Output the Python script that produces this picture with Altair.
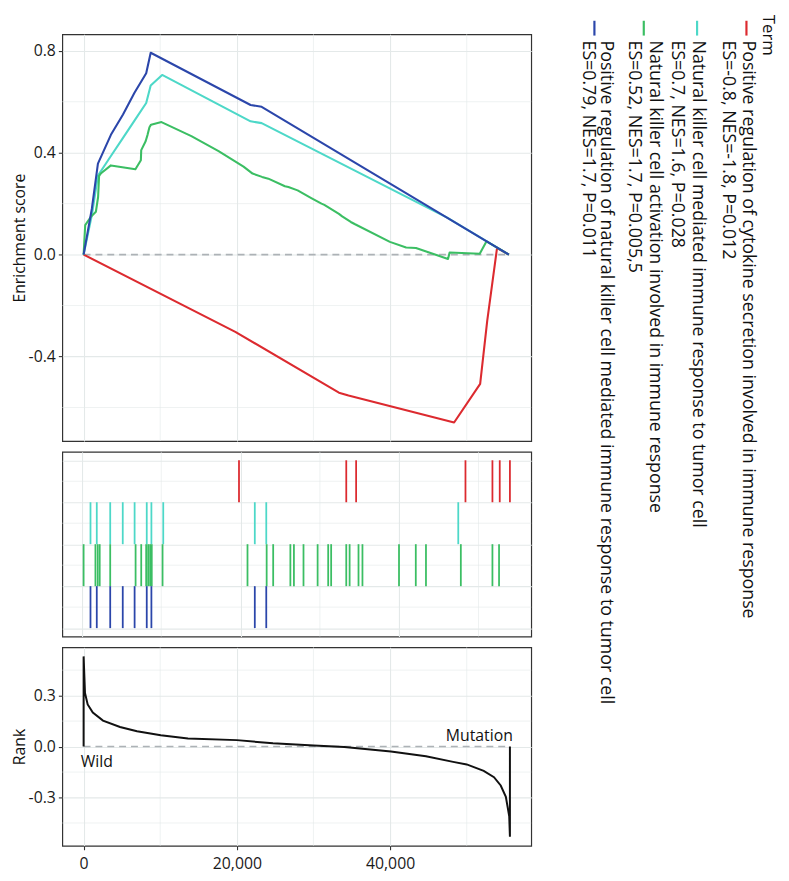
import altair as alt
import pandas as pd

FONT = "Open Sans"

# ---------------- data ----------------
terms = [
    "Positive regulation of cytokine secretion involved in immune response",
    "Natural killer cell mediated immune response to tumor cell",
    "Natural killer cell activation involved in immune response",
    "Positive regulation of natural killer cell mediated immune response to tumor cell",
]
stat_lines = [
    "ES=-0.8, NES=-1.8, P=0.012",
    "ES=0.7, NES=1.6, P=0.028",
    "ES=0.52, NES=1.7, P=0.005,5",
    "ES=0.79, NES=1.7, P=0.011",
]
term_colors = ["#DC2A2F", "#4DD8C8", "#3BBE63", "#2B46AA"]

# running enrichment score curves
red_x = [0, 19800, 33325, 34570, 48356, 51756, 52677, 53960, 55503]
red_y = [0, -0.303, -0.542, -0.553, -0.659, -0.507, -0.26, 0.026, 0]

cyan_x = [0, 1075, 1868, 3562, 5143, 6638, 8169, 8755, 10249, 21793, 23238, 47447, 55503]
cyan_y = [0, 0.155, 0.31, 0.387, 0.458, 0.526, 0.595, 0.664, 0.705, 0.523, 0.516, 0.145, 0]

green_x = [0, 208, 950, 1600, 1890, 2020, 2237, 3562, 6762, 7472, 7520, 8095, 8344, 8593, 8800,
           10162, 14065, 17615, 20872, 22052, 23288, 24110, 26277, 26725, 27933, 29714, 31046,
           31420, 33325, 33748, 34869, 35367, 39975, 42092, 43375, 47560, 47771, 51700, 52590, 55503]
green_y = [0, 0.116, 0.148, 0.168, 0.226, 0.309, 0.318, 0.35, 0.335, 0.37, 0.41, 0.445, 0.47, 0.5, 0.51,
           0.52, 0.465, 0.406, 0.345, 0.318, 0.305, 0.298, 0.268, 0.265, 0.252, 0.222, 0.2,
           0.195, 0.16, 0.15, 0.128, 0.12, 0.05, 0.028, 0.026, -0.017, 0.008, 0.003, 0.052, 0]

blue_x = [0, 1075, 1868, 3562, 5143, 6638, 8169, 8755, 21793, 23238, 55503]
blue_y = [0, 0.18, 0.357, 0.47, 0.55, 0.635, 0.712, 0.792, 0.587, 0.58, 0]

# gene positions of each set in the ranked list
red_hits = [19800, 33325, 34570, 48356, 51756, 52677, 53960]
cyan_hits = [1075, 1868, 3562, 5143, 6638, 8169, 8755, 10249, 21793, 23238, 47447]
green_hits = [208, 1698, 1988, 2237, 3562, 6762, 7472, 8095, 8344, 8593, 8800, 10162, 20872,
              23288, 24110, 26277, 26725, 27933, 29714, 31046, 31420, 33325, 33748, 34869,
              35367, 39975, 42092, 43375, 47771, 51756, 52590]
blue_hits = [1075, 1868, 3562, 5143, 6638, 8169, 8755, 21793, 23238]

# ranked list metric
rank_x = [0, 0, 180, 530, 1200, 2530, 4750, 6970, 10070, 13620, 20000, 24710, 30040, 34030,
          40110, 44680, 48230, 50000, 52220, 53560, 54440, 55110, 55550, 55640, 55640]
rank_y = [0, 0.531, 0.315, 0.248, 0.2, 0.153, 0.115, 0.09, 0.067, 0.048, 0.038, 0.019, 0.006,
          -0.002, -0.029, -0.057, -0.09, -0.105, -0.143, -0.18, -0.229, -0.296, -0.411, -0.531, 0]

group_labels = ["Wild", "Mutation"]
group_label_y = [-0.09, 0.06]

x_major = [0, 20000, 40000]
x_minor = [10000, 30000, 50000]
es_major = [-0.4, 0.0, 0.4, 0.8]
es_minor = [-0.6, -0.2, 0.2, 0.6]
lane_major = [0, 1, 2, 3, 4]
lane_minor = [0.5, 1.5, 2.5, 3.5]
rank_major = [-0.3, 0.0, 0.3]
rank_minor = [-0.45, -0.15, 0.15, 0.45]

# ---------------- frames ----------------
curves = [(red_x, red_y), (cyan_x, cyan_y), (green_x, green_y), (blue_x, blue_y)]
es_df = pd.concat(
    [pd.DataFrame({"term": t, "x": cx, "y": cy, "i": range(len(cx))}) for t, (cx, cy) in zip(terms, curves)],
    ignore_index=True,
)
hits = [red_hits, cyan_hits, green_hits, blue_hits]
n_terms = len(terms)
hits_df = pd.concat(
    [pd.DataFrame({"term": t, "x": h, "lane": n_terms - 1 - k}) for k, (t, h) in enumerate(zip(terms, hits))],
    ignore_index=True,
)
rank_df = pd.DataFrame({"x": rank_x, "y": rank_y, "i": range(len(rank_x))})
lab_df = pd.DataFrame({
    "label": group_labels,
    "x": [rank_x[0], rank_x[-1]],
    "y": group_label_y,
})


def expand(lo, hi, f=0.05):
    r = hi - lo
    return [lo - f * r, hi + f * r]


all_hits = [v for h in hits for v in h]
x_dom = expand(min(rank_x), max(rank_x))
mid_dom = expand(min(all_hits), max(all_hits))
es_dom = expand(min(es_df["y"]), max(es_df["y"]))
lane_dom = expand(0, n_terms)
rank_dom = expand(min(rank_y), max(rank_y))

# ---------------- style ----------------
W = 475
H_TOP, H_MID, H_BOT = 412, 187, 201
GRID = "#E4E9E9"
GRID_W = 1.1
MINOR_W = 0.6
ZERO = "#ADB2B6"
NEG = "(datum.value < 0 ? '-' : '') + format(abs(datum.value), '.1f')"
TITLE_X = -35
LAB_FS = 16
TITLE_FS = 16
ANN_FS = 16
color_scale = alt.Scale(domain=terms, range=term_colors)


def sc(dom):
    return alt.Scale(domain=dom, nice=False, zero=False)


# ---------------- top panel ----------------
xs_top = sc(x_dom)
ys_top = sc(es_dom)
ax_x_top = alt.Axis(values=x_major, labels=False, ticks=False, domain=False, title=None,
                    grid=True, gridColor=GRID, gridWidth=GRID_W)
ax_y_top = alt.Axis(values=es_major, labelExpr=NEG, title="Enrichment score", titleX=TITLE_X,
                    grid=True, gridColor=GRID, gridWidth=GRID_W, domain=False)
X_top = alt.X("x:Q", scale=xs_top, axis=ax_x_top)
Y_top = alt.Y("y:Q", scale=ys_top, axis=ax_y_top)

top_minor_x = alt.Chart(pd.DataFrame({"x": x_minor})).mark_rule(color=GRID, strokeWidth=MINOR_W).encode(x=X_top)
top_minor_y = alt.Chart(pd.DataFrame({"y": es_minor})).mark_rule(color=GRID, strokeWidth=MINOR_W).encode(y=Y_top)
top_zero = alt.Chart(es_df).mark_rule(color=ZERO, strokeWidth=1.6, strokeDash=[7, 5]).encode(
    x=alt.X("min(x):Q", scale=xs_top, axis=ax_x_top),
    x2="max(x)",
    y=alt.datum(0),
)
top_lines = alt.Chart(es_df).mark_line(strokeWidth=2.1, strokeJoin="round").encode(
    x=X_top, y=Y_top,
    color=alt.Color("term:N", scale=color_scale, legend=None),
    order="i:Q",
)
top = alt.layer(top_minor_x, top_minor_y, top_zero, top_lines).properties(width=W, height=H_TOP)

# ---------------- middle panel ----------------
xs_mid = sc(mid_dom)
ys_mid = sc(lane_dom)
ax_x_mid = alt.Axis(values=x_major, labels=False, ticks=False, domain=False, title=None,
                    grid=True, gridColor=GRID, gridWidth=GRID_W)
ax_y_mid = alt.Axis(values=lane_major, labels=False, ticks=False, domain=False, title=None,
                    grid=True, gridColor=GRID, gridWidth=GRID_W)
X_mid = alt.X("x:Q", scale=xs_mid, axis=ax_x_mid)
Y_mid = alt.Y("lane:Q", scale=ys_mid, axis=ax_y_mid)
mid_minor_x = alt.Chart(pd.DataFrame({"x": x_minor})).mark_rule(color=GRID, strokeWidth=MINOR_W).encode(x=X_mid)
mid_minor_y = alt.Chart(pd.DataFrame({"lane": lane_minor})).mark_rule(color=GRID, strokeWidth=MINOR_W).encode(y=Y_mid)
mid_ticks = alt.Chart(hits_df).transform_calculate(lane_top="datum.lane + 1").mark_rule(strokeWidth=1.8).encode(
    x=X_mid, y=Y_mid, y2="lane_top:Q",
    color=alt.Color("term:N", scale=color_scale, legend=None),
)
mid = alt.layer(mid_minor_x, mid_minor_y, mid_ticks).properties(width=W, height=H_MID)

# ---------------- bottom panel ----------------
xs_bot = sc(x_dom)
ys_bot = sc(rank_dom)
ax_x_bot = alt.Axis(values=x_major, format=",d", title=None, grid=True, gridColor=GRID, gridWidth=GRID_W,
                    domain=False, labelPadding=6)
ax_y_bot = alt.Axis(values=rank_major, labelExpr=NEG, title="Rank", titleX=TITLE_X,
                    grid=True, gridColor=GRID, gridWidth=GRID_W, domain=False)
X_bot = alt.X("x:Q", scale=xs_bot, axis=ax_x_bot)
Y_bot = alt.Y("y:Q", scale=ys_bot, axis=ax_y_bot)
bot_minor_x = alt.Chart(pd.DataFrame({"x": x_minor})).mark_rule(color=GRID, strokeWidth=MINOR_W).encode(x=X_bot)
bot_minor_y = alt.Chart(pd.DataFrame({"y": rank_minor})).mark_rule(color=GRID, strokeWidth=MINOR_W).encode(y=Y_bot)
bot_zero = alt.Chart(rank_df).mark_rule(color=ZERO, strokeWidth=1.6, strokeDash=[7, 5]).encode(
    x=alt.X("min(x):Q", scale=xs_bot, axis=ax_x_bot),
    x2="max(x)",
    y=alt.datum(0),
)
bot_line = alt.Chart(rank_df).mark_line(color="#111111", strokeWidth=2.0).encode(x=X_bot, y=Y_bot, order="i:Q")
wild = alt.Chart(lab_df.iloc[[0]]).mark_text(align="left", baseline="middle", dx=-3, fontSize=ANN_FS,
                                             font=FONT, color="#111111").encode(x=X_bot, y=Y_bot, text="label:N")
mut = alt.Chart(lab_df.iloc[[1]]).mark_text(align="right", baseline="middle", dx=3, fontSize=ANN_FS,
                                            font=FONT, color="#111111").encode(x=X_bot, y=Y_bot, text="label:N")
bot = alt.layer(bot_minor_x, bot_minor_y, bot_zero, bot_line, wild, mut).properties(width=W, height=H_BOT)

left = alt.vconcat(top, mid, bot, spacing=9)

# ---------------- legend (rotated, drawn manually) ----------------
LEG_X0 = 538.0   # page x of legend origin (panel right edge)
LEG_Y0 = 31.7    # page y of legend origin (panel top edge)
term_title_x = 777
key_x = [755, 705, 651, 601]
line1_x = [757, 706, 662, 613]
line2_x = [736, 685, 641, 594]
key_y = (18, 33)
text_y = 38
LEG_FS = 18

leg_layers = []
leg_layers.append(
    alt.Chart(pd.DataFrame({"t": ["Term"]})).mark_text(angle=90, align="left", baseline="middle",
                                                        fontSize=17, font=FONT, color="#111111").encode(
        text="t:N", x=alt.value(term_title_x - LEG_X0), y=alt.value(12 - LEG_Y0))
)
for k in range(n_terms):
    leg_layers.append(
        alt.Chart(pd.DataFrame({"t": [terms[k]]})).mark_rule(color=term_colors[k], strokeWidth=2.2).encode(
            x=alt.value(key_x[k] - LEG_X0), y=alt.value(key_y[0] - LEG_Y0), y2=alt.value(key_y[1] - LEG_Y0))
    )
    leg_layers.append(
        alt.Chart(pd.DataFrame({"t": [terms[k]]})).mark_text(angle=90, align="left", baseline="middle",
                                                              fontSize=LEG_FS, font=FONT, color="#111111").encode(
            text="t:N", x=alt.value(line1_x[k] - LEG_X0), y=alt.value(text_y - LEG_Y0))
    )
    leg_layers.append(
        alt.Chart(pd.DataFrame({"t": [stat_lines[k]]})).mark_text(angle=90, align="left", baseline="middle",
                                                                   fontSize=LEG_FS, font=FONT, color="#111111").encode(
            text="t:N", x=alt.value(line2_x[k] - LEG_X0), y=alt.value(text_y - LEG_Y0))
    )
legend = alt.layer(*leg_layers).properties(width=240, height=H_TOP,
                                           view=alt.ViewBackground(strokeOpacity=0))

chart = alt.hconcat(left, legend, spacing=0).properties(
    padding={"left": 3, "top": 1, "right": 4, "bottom": 0}
).configure_view(
    stroke="#333333", strokeWidth=1.2
).configure_axis(
    labelFont=FONT, titleFont=FONT, labelFontSize=LAB_FS, titleFontSize=TITLE_FS, titleFontWeight="normal",
    labelColor="#1A1A1A", titleColor="#111111", tickColor="#333333", tickSize=4, tickWidth=1.1,
    labelPadding=3,
).configure_text(font=FONT)

chart.save("out.html", embed_options={"renderer": "svg", "actions": False})
